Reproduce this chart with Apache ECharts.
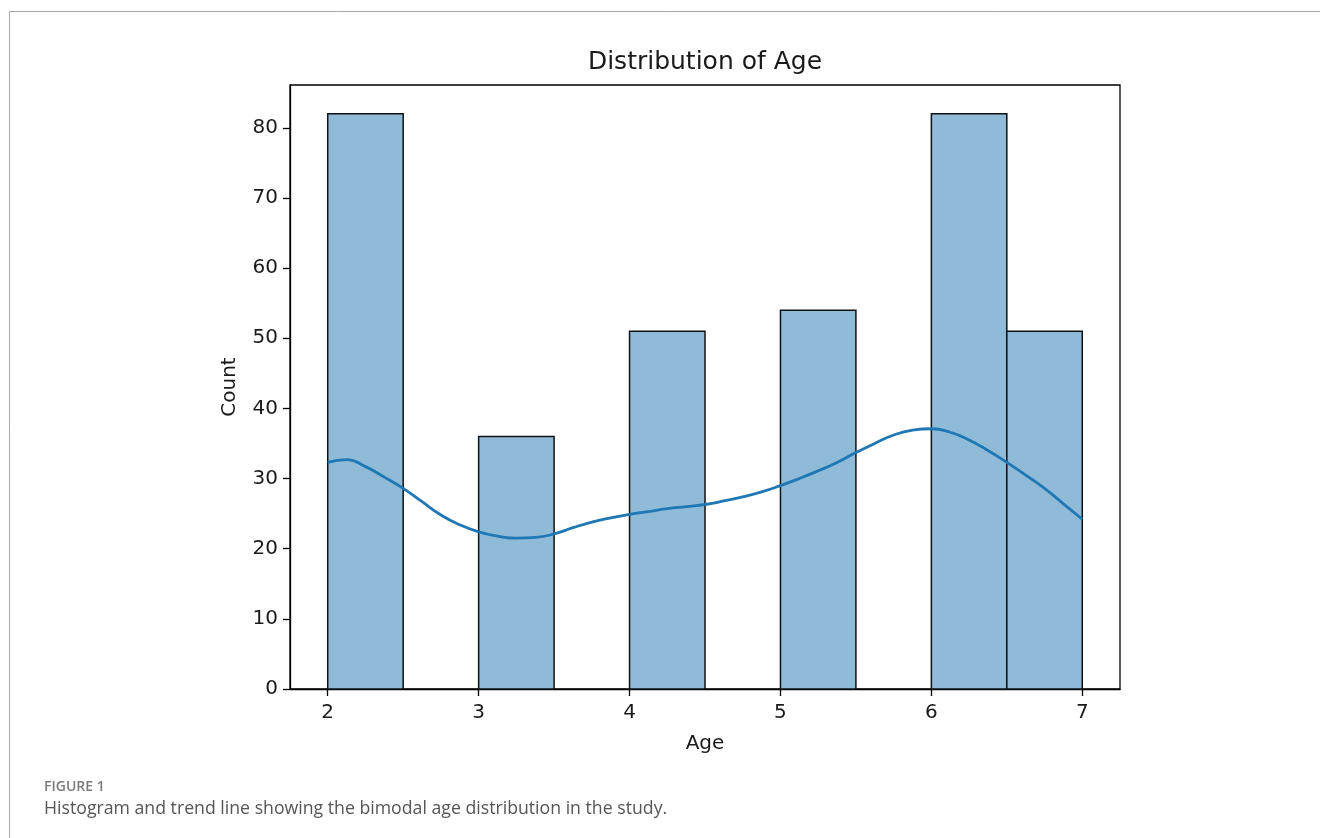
<!DOCTYPE html>
<html>
<head>
<meta charset="utf-8">
<script src="https://cdn.jsdelivr.net/npm/echarts@6/dist/echarts.min.js"></script>
<style>
html,body{margin:0;padding:0;background:#fff;}
#chart{width:1320px;height:838px;}
</style>
</head>
<body>
<div id="chart"></div>
<script>
// ---- data ----
var binStarts = [2, 3, 4, 5, 6, 6.5];
var binWidth = 0.5;
var counts = [82, 36, 51, 54, 82, 51];
var kdeX = [2.0, 2.125, 2.25, 2.375, 2.5, 2.625, 2.75, 2.875, 3.0, 3.125, 3.25, 3.375, 3.5, 3.625, 3.75, 3.875,
            4.0, 4.125, 4.25, 4.375, 4.5, 4.625, 4.75, 4.875, 5.0, 5.125, 5.25, 5.375, 5.5, 5.625, 5.75, 5.875,
            6.0, 6.125, 6.25, 6.375, 6.5, 6.625, 6.75, 6.875, 7.0];
var kdeY = [32.3, 32.7, 31.7, 30.2, 28.6, 26.7, 24.8, 23.4, 22.4, 21.8, 21.5, 21.6, 22.1, 23.0, 23.8, 24.4,
            24.9, 25.3, 25.7, 26.0, 26.3, 26.8, 27.4, 28.1, 29.0, 30.0, 31.1, 32.3, 33.7, 35.0, 36.2, 36.9,
            37.1, 36.6, 35.5, 34.0, 32.3, 30.5, 28.6, 26.4, 24.2];
var xTicks = [2, 3, 4, 5, 6, 7];
var yTicks = [0, 10, 20, 30, 40, 50, 60, 70, 80];
var chartTitle = 'Distribution of Age';
var xLabel = 'Age';
var yLabel = 'Count';
var figLabel = 'FIGURE 1';
var caption = 'Histogram and trend line showing the bimodal age distribution in the study.';

var barData = binStarts.map(function (s, i) { return [s, s + binWidth, counts[i]]; });
var lineData = kdeX.map(function (x, i) { return [x, kdeY[i]]; });

var chart = echarts.init(document.getElementById('chart'), null, {renderer: 'canvas'});
var mplFont = 'DejaVu Sans';
var option = {
  animation: false,
  backgroundColor: '#fff',
  grid: {left: 290, right: 200, top: 85, bottom: 149, show: true, borderColor: '#000', borderWidth: 1.3, backgroundColor: 'transparent'},
  xAxis: {
    type: 'value', min: 1.75, max: 7.25,
    splitLine: {show: false},
    axisLine: {show: true, onZero: false, lineStyle: {color: '#000', width: 1.3}},
    axisTick: {show: true, length: 7, lineStyle: {color: '#000', width: 1.3}, customValues: xTicks},
    axisLabel: {color: '#1a1a1a', fontFamily: mplFont, fontSize: 20, margin: 14, customValues: xTicks},
    name: xLabel, nameLocation: 'middle', nameGap: 45,
    nameTextStyle: {color: '#1a1a1a', fontFamily: mplFont, fontSize: 20}
  },
  yAxis: {
    type: 'value', min: 0, max: 86.1,
    splitLine: {show: false},
    axisLine: {show: true, lineStyle: {color: '#000', width: 1.3}},
    axisTick: {show: true, length: 7, lineStyle: {color: '#000', width: 1.3}, customValues: yTicks},
    axisLabel: {color: '#1a1a1a', fontFamily: mplFont, fontSize: 20, margin: 12, customValues: yTicks},
    name: yLabel, nameLocation: 'middle', nameGap: 50,
    nameTextStyle: {color: '#1a1a1a', fontFamily: mplFont, fontSize: 20}
  },
  graphic: [
    {type: 'rect', silent: true, shape: {x: 9.5, y: 11.5, width: 1340, height: 860}, style: {fill: 'none', stroke: '#a6a6a6', lineWidth: 1}},
    {type: 'text', x: 705, y: 62, style: {text: chartTitle, fontFamily: mplFont, fontSize: 25, fill: '#1a1a1a', textAlign: 'center', textVerticalAlign: 'middle'}},
    {type: 'text', x: 44, y: 787.5, style: {text: figLabel, fontFamily: 'Open Sans', fontSize: 14, fontWeight: 600, fill: '#7a7a7a', textVerticalAlign: 'middle'}},
    {type: 'text', x: 44, y: 809, style: {text: caption, fontFamily: 'Open Sans', fontSize: 17.7, fill: '#555', textVerticalAlign: 'middle'}}
  ],
  series: [
    {
      type: 'custom',
      data: barData,
      encode: {x: [0, 1], y: 2},
      renderItem: function (params, api) {
        var p0 = api.coord([api.value(0), 0]);
        var p1 = api.coord([api.value(1), api.value(2)]);
        return {
          type: 'rect',
          shape: {x: p0[0], y: p1[1], width: p1[0] - p0[0], height: p0[1] - p1[1]},
          style: {fill: '#8fbbd9', stroke: '#111', lineWidth: 1.5}
        };
      },
      z: 2
    },
    {
      type: 'line',
      data: lineData,
      smooth: 0.5,
      showSymbol: false,
      lineStyle: {color: '#1f77b4', width: 2.8},
      z: 3
    }
  ]
};
chart.setOption(option);
</script>
</body>
</html>
